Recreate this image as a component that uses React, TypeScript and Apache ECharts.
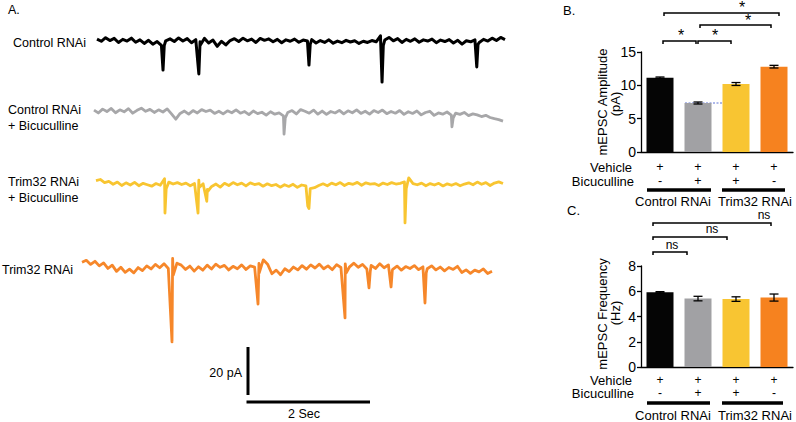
import React, { useEffect, useRef } from "react";
import * as echarts from "echarts";

// ---------- Panel A: trace data (pA), sampled every DT seconds ----------
const DT = 0.07;

const controlNoise = [
  1.2, 0.3, 1.8, 0.6, 1.5, -0.2, 1.1, 0.4, 1.6, -0.1,
  0.9, -0.6, 0.7, -0.9, 0.2, -1.4, 0.5, 1.3, 0.2, 1.7,
  0.4, 1.4, -0.3, 1.0, 0.1, 1.5, -0.4, 0.8, -1.8, 0.3,
  -1.2, 0.6, 1.4, 0.2, 1.6, 0.5, 1.2, -0.2, 1.5, 0.7,
  1.3, 0.1, 1.1, -0.3, 0.9, 0.3, 1.2, -0.1, 0.8, 0.4,
  1.0, -0.4, 0.6, -0.2, 0.9, -0.5, 0.4, -0.3, 0.7, 0.0,
  0.5, -0.6, 0.3, -0.2, 0.6, 0.1, 2.6, 0.8, 1.9, 0.5,
  1.4, -0.2, 1.1, 0.3, 1.3, -0.1, 0.9, 0.4, 1.2, -0.3,
  0.8, 0.2, 1.0, -0.4, 0.7, -0.9, 0.5, 0.1, 0.9, -0.2,
  1.1, 0.4, 1.6, 0.6, 1.9, 1.0,
];
// [time s, peak pA, tail pA]
const controlEvents = [
  [1.076, -11.7, -1.5],
  [1.66, -13.3, -1.5],
  [3.455, -9.6, -1.0],
  [4.646, -16.7, -1.5],
  [6.19, -10.4, -1.0],
];

const controlBicNoise = [
  0.8, -0.4, 1.2, 0.2, 1.5, -0.3, 0.9, 0.1, 1.4, -0.5,
  0.7, 1.6, 0.3, 1.1, -0.2, 0.9, 0.0, 1.3, -0.8, -3.0,
  -0.6, 0.4, -0.9, 0.6, -0.4, 1.0, 0.2, 0.8, -0.6, 0.3,
  -0.8, 0.5, -0.3, 0.9, -0.5, 0.2, -1.1, 0.4, -0.7, -0.1,
  -1.3, 0.1, -0.9, -0.4, -1.6, -0.2, 0.6, -0.8, 1.0, 0.3,
  -0.5, 0.8, -0.9, 0.4, -1.0, 0.2, -0.4, 0.7, -0.8, 0.5,
  -0.3, 0.9, -0.6, 0.3, -0.9, 0.6, -0.2, 0.8, -0.7, 0.2,
  -0.5, 0.6, -1.0, 0.1, -0.6, 0.4, -1.2, -0.2, 0.3, -1.4,
  -0.4, -0.9, 0.0, -1.3, -0.5, -1.0, -0.2, -1.5, -0.8, -1.2,
  -1.9, -1.4, -2.3, -2.8, -3.2, -3.8,
];
const controlBicEvents = [
  [3.09, -9.2, -2.5],
  [5.82, -6.2, -2.5],
];

const trimBicNoise = [
  1.8, 2.3, 1.0, 1.5, 0.3, 1.2, -0.2, 0.9, 0.0, 1.1,
  -0.3, 0.7, 0.1, -0.5, 0.6, -0.1, 2.6, 1.2, 0.4, 1.0,
  0.2, 0.8, -0.3, 0.6, 2.0, 0.5, -1.8, -0.6, 0.4, -0.9,
  0.7, -0.2, 1.0, 0.1, 0.8, -0.4, 0.9, 0.2, 0.6, -0.5,
  0.5, -0.3, 0.2, -0.9, 0.1, -0.6, 0.3, -1.0, 0.0, -0.4,
  -1.5, -1.1, -0.2, 0.5, -0.3, 0.8, 0.1, 1.0, -0.2, 0.7,
  0.3, 1.1, -0.1, 0.9, 0.4, 0.6, -0.2, 0.8, 0.2, 1.0,
  0.4, 0.7, 1.3, 3.0, 0.6, 0.1, 0.8, -0.3, 0.6, 0.0,
  0.7, -0.4, 0.5, -0.1, 0.6, -0.3, 0.4, 0.9, 0.1, 1.2,
  0.3, 1.0, -0.2, 0.8, 1.3, 0.6,
];
const trimBicEvents = [
  [1.127, -11.7, -1.5],
  [1.667, -11.7, -1.0],
  [1.81, -6.8, -2.5],
  [3.46, -8.8, -9.8],
  [5.049, -15.8, -1.5],
];

const trimNoise = [
  2.4, 3.2, 1.5, 2.8, 0.9, 2.1, -0.2, 1.2, -1.4, 0.3,
  -1.8, -0.5, -2.0, 0.2, -1.1, 0.9, -0.4, 1.5, 0.1, 1.8,
  -0.2, 4.0, 2.0, 1.2, -0.6, 0.8, -1.3, 0.5, -0.9, 1.2,
  -0.4, 1.6, 0.3, 1.1, -0.8, 0.7, -0.3, 1.3, -0.6, 0.9,
  0.4, 1.9, 3.4, 1.6, -2.4, -0.9, -2.8, -0.3, -1.5, 0.4,
  -0.8, 1.0, -0.5, 1.3, 0.0, 1.6, -0.3, 0.9, -0.7, 1.4,
  0.2, 1.7, 0.5, 2.0, 0.3, 1.5, -0.4, 1.1, -0.2, 1.8,
  0.1, 1.3, -0.6, 0.8, -0.9, 0.6, -0.2, 1.0, -0.7, 0.5,
  -0.3, 0.9, -0.8, 0.4, -1.2, 0.2, -0.6, 0.7, -1.9, -0.8,
  -2.2, -0.9, -1.6, -0.4, -2.3, -1.4,
];
const trimEvents = [
  [1.46, -30.8, -3.0],
  [2.855, -15.0, -2.0],
  [4.266, -20.8, -2.0],
  [4.655, -8.3, -1.5],
  [5.013, -7.9, -1.0],
  [5.563, -14.6, -2.0],
];

const traceNames = [
  ["Control RNAi"],
  ["Control RNAi", "+ Bicuculline"],
  ["Trim32 RNAi", "+ Bicuculline"],
  ["Trim32 RNAi"],
];

// ---------- Panels B & C: bar data ----------
const conditions = ["Control Veh", "Control Bic", "Trim32 Bic", "Trim32 Veh"];
const vehicleRow = ["+", "+", "+", "+"];
const bicucullineRow = ["-", "+", "+", "-"];
const groupLabels = ["Control RNAi", "Trim32 RNAi"];
const ampMean = [11.15, 7.35, 10.2, 12.8];
const ampSem = [0.1, 0.15, 0.22, 0.2];
const freqMean = [5.92, 5.42, 5.38, 5.5];
const freqSem = [0.05, 0.18, 0.18, 0.28];
const ampSig = ["*", "*", "*", "*"];
const freqSig = ["ns", "ns", "ns"];

// ---------- styles / layout ----------
const FONT = "Liberation Sans, Arial, Helvetica, sans-serif";
const traceColors = ["#000000", "#a7a7a9", "#f8c531", "#f6872a"];
const traceWidths = [3, 2.8, 2.8, 2.8];
const barColors = ["#050505", "#a1a1a4", "#f8c532", "#f6821f"];
const traceLayout = [
  { left: 97, width: 408, top: 30, labelX: 13, labelY: 43 },
  { left: 94, width: 409, top: 100, labelX: 8, labelY: 110 },
  { left: 96, width: 407, top: 173, labelX: 8, labelY: 182 },
  { left: 82, width: 410, top: 256, labelX: 2, labelY: 270 },
];

function buildTrace(noise: number[], events: number[][]) {
  const pts: number[][] = noise.map((v, i) => [Math.round(i * DT * 1000) / 1000, v]);
  events.forEach(([t, p, tail]) => {
    pts.push([t, p]);
    pts.push([t + 0.02, tail]);
  });
  pts.sort((a, b) => a[0] - b[0]);
  return pts;
}

export default function App() {
  const ref = useRef<HTMLDivElement>(null);

  useEffect(() => {
    if (!ref.current) return;
    const chart = echarts.init(ref.current, null, { renderer: "svg" });

    const traces = [
      buildTrace(controlNoise, controlEvents),
      buildTrace(controlBicNoise, controlBicEvents),
      buildTrace(trimBicNoise, trimBicEvents),
      buildTrace(trimNoise, trimEvents),
    ];
    const tMax = (controlNoise.length - 1) * DT;

    const grids: any[] = traceLayout.map((l) => ({
      left: l.left,
      top: l.top,
      width: l.width,
      height: 96,
    }));
    grids.push({ left: 641, top: 52, width: 152, height: 100 });
    grids.push({ left: 641, top: 266, width: 152, height: 101 });

    const xAxes: any[] = traceLayout.map((_, i) => ({
      type: "value",
      gridIndex: i,
      min: 0,
      max: tMax,
      show: false,
    }));
    const yAxes: any[] = traceLayout.map((_, i) => ({
      type: "value",
      gridIndex: i,
      min: -35,
      max: 5,
      show: false,
    }));

    const catAxis = (gi: number, margin: number, lh: number, fs: number) => ({
      type: "category",
      gridIndex: gi,
      data: conditions,
      axisLine: { show: true, lineStyle: { color: "#000", width: 1.3 } },
      axisTick: { show: false },
      axisLabel: {
        interval: 0,
        margin,
        lineHeight: lh,
        fontSize: fs,
        fontFamily: FONT,
        color: "#000",
        formatter: (_v: string, i: number) => vehicleRow[i] + "\n" + bicucullineRow[i],
      },
    });
    xAxes.push(catAxis(4, 8, 14, 12.5));
    xAxes.push(catAxis(5, 6, 13.5, 12));

    const valAxis = (gi: number, max: number, interval: number) => ({
      type: "value",
      gridIndex: gi,
      min: 0,
      max,
      interval,
      axisLine: { show: true, lineStyle: { color: "#000", width: 1.3 } },
      axisTick: { show: true, length: 4, lineStyle: { color: "#000", width: 1.3 } },
      axisLabel: { fontSize: 14, fontFamily: FONT, color: "#000", margin: 5 },
      splitLine: { show: false },
    });
    yAxes.push(valAxis(4, 15, 5));
    yAxes.push(valAxis(5, 8, 2));

    const series: any[] = traces.map((d, i) => ({
      type: "line",
      xAxisIndex: i,
      yAxisIndex: i,
      data: d,
      showSymbol: false,
      symbol: "none",
      lineStyle: { color: traceColors[i], width: traceWidths[i], join: "round" },
      silent: true,
    }));

    const barSeries = (gi: number, means: number[]) => ({
      type: "bar",
      xAxisIndex: gi,
      yAxisIndex: gi,
      barWidth: 27,
      data: means.map((v, i) => ({ value: v, itemStyle: { color: barColors[i] } })),
    });
    const errSeries = (gi: number, means: number[], sems: number[]) => ({
      type: "custom",
      xAxisIndex: gi,
      yAxisIndex: gi,
      z: 5,
      data: means.map((m, i) => [i, m - sems[i], m + sems[i]]),
      renderItem: (_p: any, api: any) => {
        const lo = api.coord([api.value(0), api.value(1)]);
        const hi = api.coord([api.value(0), api.value(2)]);
        const w = 4.5;
        const st = { stroke: "#000", lineWidth: 1.3 };
        return {
          type: "group",
          children: [
            { type: "line", shape: { x1: hi[0], y1: hi[1], x2: lo[0], y2: lo[1] }, style: st },
            { type: "line", shape: { x1: hi[0] - w, y1: hi[1], x2: hi[0] + w, y2: hi[1] }, style: st },
            { type: "line", shape: { x1: lo[0] - w, y1: lo[1], x2: lo[0] + w, y2: lo[1] }, style: st },
          ],
        };
      },
    });
    series.push(barSeries(4, ampMean), errSeries(4, ampMean, ampSem));
    series.push(barSeries(5, freqMean), errSeries(5, freqMean, freqSem));

    // ---------- graphic annotations ----------
    const g: any[] = [];
    const txt = (text: string, x: number, y: number, opts: any = {}) => ({
      type: "text",
      x,
      y,
      silent: true,
      style: {
        text,
        fill: "#000",
        font: `${opts.size || 12.5}px ${FONT}`,
        textAlign: opts.align || "left",
        textVerticalAlign: "middle",
        verticalAlign: "middle",
      },
      rotation: opts.rotation || 0,
    });
    const bracket = (x1: number, x2: number, y: number) => ({
      type: "polyline",
      silent: true,
      shape: { points: [[x1, y + 3], [x1, y], [x2, y], [x2, y + 3]] },
      style: { stroke: "#000", lineWidth: 1.5, fill: null },
    });
    const hline = (x1: number, x2: number, y: number, w: number) => ({
      type: "line",
      silent: true,
      shape: { x1, y1: y, x2, y2: y },
      style: { stroke: "#000", lineWidth: w },
    });

    // Panel letters
    g.push(txt("A.", 8, 10, { size: 12.5 }));
    g.push(txt("B.", 563, 10, { size: 13 }));
    g.push(txt("C.", 567, 210, { size: 13 }));

    // Trace labels
    traceLayout.forEach((l, i) => {
      traceNames[i].forEach((line, k) => {
        g.push(txt(line, l.labelX, l.labelY + k * 15.5, { size: 12.5 }));
      });
    });

    // Scale bars
    g.push({
      type: "line",
      silent: true,
      shape: { x1: 248, y1: 347, x2: 248, y2: 395 },
      style: { stroke: "#000", lineWidth: 3 },
    });
    g.push(hline(246.5, 370, 402, 3));
    g.push(txt("20 pA", 242, 373, { size: 12.5, align: "right" }));
    g.push(txt("2 Sec", 288, 414, { size: 12.5 }));

    // Panel B annotations
    g.push(txt("mEPSC Amplitude", 602, 102, { size: 13, align: "center", rotation: Math.PI / 2 }));
    g.push(txt("(pA)", 615, 104, { size: 13, align: "center", rotation: Math.PI / 2 }));
    g.push({
      type: "line",
      silent: true,
      shape: { x1: 685, y1: 103, x2: 749, y2: 103 },
      style: { stroke: "#5d72d6", lineWidth: 1, lineDash: [2, 1.5] },
    });
    const ampBr = [
      [663, 696, 41, 681, 31.5],
      [698, 731, 41, 715, 31.5],
      [700, 771, 25, 748, 16.5],
      [664, 779, 13, 742, 3.5],
    ];
    ampBr.forEach(([x1, x2, y, sx, sy], i) => {
      g.push(bracket(x1, x2, y));
      g.push(txt(ampSig[i], sx, sy + 3.5, { size: 16, align: "center" }));
    });
    g.push(txt("Vehicle", 632, 167, { size: 13, align: "right" }));
    g.push(txt("Bicuculline", 634, 181, { size: 13, align: "right" }));
    g.push(hline(647, 711, 190, 3.5));
    g.push(hline(722, 785, 190, 3.5));
    g.push(txt(groupLabels[0], 673, 201, { size: 13, align: "center" }));
    g.push(txt(groupLabels[1], 755, 201, { size: 13, align: "center" }));

    // Panel C annotations
    g.push(txt("mEPSC Frequency", 602, 314, { size: 13, align: "center", rotation: Math.PI / 2 }));
    g.push(txt("(Hz)", 615, 313, { size: 13, align: "center", rotation: Math.PI / 2 }));
    const freqBr = [
      [653, 687, 252, 672, 245],
      [653, 727, 237, 712, 229],
      [653, 771, 223, 764, 215],
    ];
    freqBr.forEach(([x1, x2, y, sx, sy], i) => {
      g.push(bracket(x1, x2, y));
      g.push(txt(freqSig[i], sx, sy, { size: 12, align: "center" }));
    });
    g.push(txt("Vehicle", 632, 380, { size: 13, align: "right" }));
    g.push(txt("Bicuculline", 634, 393.5, { size: 13, align: "right" }));
    g.push(hline(647, 710, 403, 3.5));
    g.push(hline(722, 783, 403, 3.5));
    g.push(txt(groupLabels[0], 673, 415, { size: 13, align: "center" }));
    g.push(txt(groupLabels[1], 755, 415, { size: 13, align: "center" }));

    chart.setOption({
      animation: false,
      backgroundColor: "#ffffff",
      textStyle: { fontFamily: FONT },
      grid: grids,
      xAxis: xAxes,
      yAxis: yAxes,
      series,
      graphic: g,
    });

    return () => chart.dispose();
  }, []);

  return (
    <div
      ref={ref}
      style={{ position: "fixed", left: 0, top: 0, width: 796, height: 422, background: "#fff" }}
    />
  );
}
